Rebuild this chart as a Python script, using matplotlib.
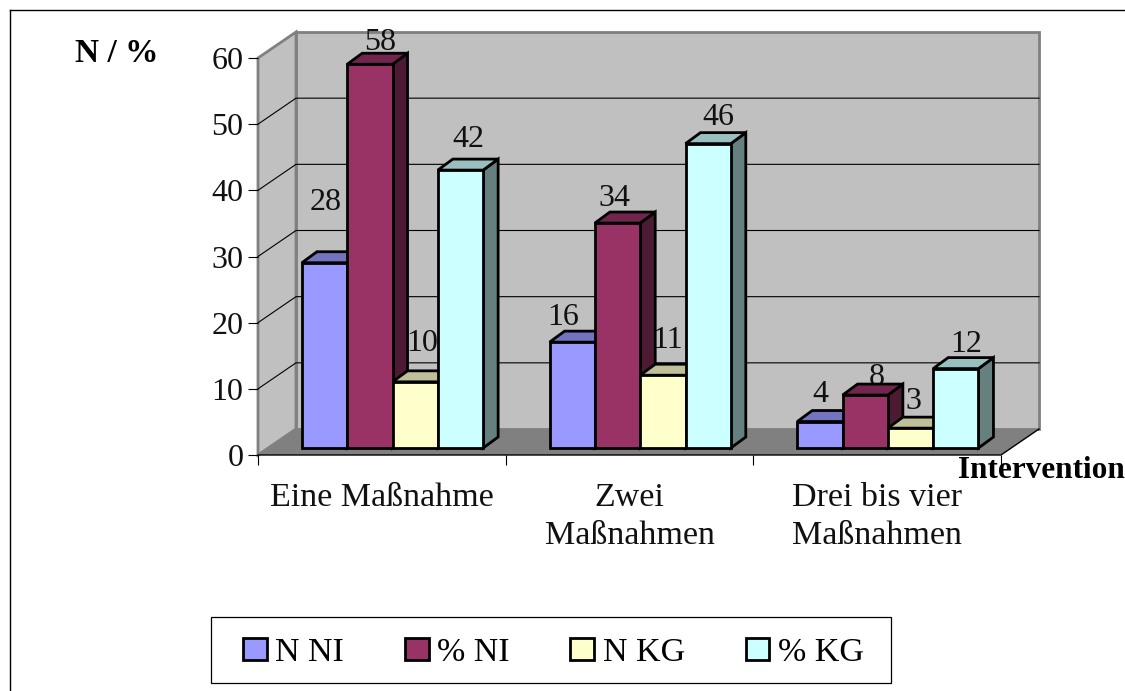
# -*- coding: utf-8 -*-
"""
Grouped pseudo 3D column chart: interventions per group
"""
import numpy as np
import matplotlib
matplotlib.use("Agg")
import matplotlib.pyplot as plt
from matplotlib.lines import Line2D
from matplotlib.colors import to_rgb

plt.rcParams['font.family'] = ['Liberation Serif', 'DejaVu Serif']

# Data
categories = ["Eine Maßnahme", "Zwei\nMaßnahmen", "Drei bis vier\nMaßnahmen"]
series_names = ["N NI", "% NI", "N KG", "% KG"]
n_ni = [28, 16, 4]
pct_ni = [58, 34, 8]
n_kg = [10, 11, 3]
pct_kg = [42, 46, 12]
y_ticks = [0, 10, 20, 30, 40, 50, 60]

series = [n_ni, pct_ni, n_kg, pct_kg]
colors = ["#9999FF", "#993366", "#FFFFCC", "#CCFFFF"]

# label offsets from the top centre of each front face, pixels
label_dx = [[1, 10, 7, 8], [-9, -3, 5, 10], [0, 12, 3, 10]]
label_dy = [[62, 24, 40, 33], [27, 27, 37, 28], [29, 20, 29, 26]]

W, H = 1125, 691
fig = plt.figure(figsize=(W/100, H/100), dpi=100, facecolor='white')
ax = fig.add_axes([258/W, 1 - 455/H, (1001-258)/W, (455-58)/H])
ax.set_xlim(0, 3)
ax.set_ylim(0, 60)
ax.patch.set_visible(False)
for s in ax.spines.values():
    s.set_visible(False)

px_x = 3 / (1001-258)
px_y = 60 / (455-58)
dep_x = 38 * px_x
dep_y = 26 * px_y

GREY = "#808080"
WALL = "#C0C0C0"

# back wall, side wall and floor
ax.fill([dep_x, 3+dep_x, 3+dep_x, dep_x], [dep_y, dep_y, 60+dep_y, 60+dep_y],
        fc=WALL, ec=GREY, lw=2, clip_on=False, zorder=1)
ax.fill([0, dep_x, dep_x, 0], [0, dep_y, 60+dep_y, 60],
        fc=WALL, ec=GREY, lw=2, clip_on=False, zorder=1)
ax.fill([0, dep_x, 3+dep_x, 3], [0, dep_y, dep_y, 0],
        fc=GREY, ec='none', clip_on=False, zorder=1.5)

for t in y_ticks[1:-1]:
    ax.plot([0, dep_x, 3+dep_x], [t, t+dep_y, t+dep_y], color='black', lw=0.8,
            clip_on=False, zorder=1.2)
ax.plot([0, 3, 3+dep_x], [0, 0, dep_y], color='black', lw=1.0, clip_on=False, zorder=1.6)

# columns
bar_w = 45.3 * px_x
off_x = 10.7 * px_x
off_y = 7 * px_y
bar_dx = 15 * px_x
bar_dy = 11 * px_y
z = 3
for i in range(len(categories)):
    for j, values in enumerate(series):
        v = values[i]
        left = i + 0.5 - 2*bar_w + j*bar_w + off_x
        right = left + bar_w
        top = v + off_y
        c = np.array(to_rgb(colors[j]))
        ax.fill([right, right+bar_dx, right+bar_dx, right],
                [off_y, off_y+bar_dy, top+bar_dy, top],
                fc=c*0.5, ec='black', lw=2, clip_on=False, zorder=z)
        ax.fill([left, left+bar_dx, right+bar_dx, right],
                [top, top+bar_dy, top+bar_dy, top],
                fc=c*0.75, ec='black', lw=2, clip_on=False, zorder=z)
        ax.bar(left, v, width=bar_w, bottom=off_y, align='edge', color=colors[j],
               edgecolor='black', linewidth=2, clip_on=False, zorder=z)
        ax.annotate(str(v), (left + bar_w/2, top),
                    xytext=(label_dx[i][j]*0.72, (label_dy[i][j] - 2)*0.72),
                    textcoords='offset points', ha='center', va='center',
                    fontsize=23, color='#111111', zorder=2)
        z += 1

# axes
ax.set_yticks(y_ticks)
ax.set_xticks([0, 1, 2, 3])
ax.set_xticklabels([])
ax.tick_params(axis='both', which='major', length=7, width=0.8, color='black')
ax.tick_params(axis='y', labelsize=23, pad=3.5, labelcolor='#111111')
ax.set_xticks([0.5, 1.5, 2.5], minor=True)
ax.set_xticklabels(categories, minor=True, fontsize=24.5, linespacing=1.32,
                   va='top', color='#111111')
ax.tick_params(axis='x', which='minor', length=0, pad=19.5)

fig.text(116.5/W, 1 - 53/H, "N / %", fontsize=24, fontweight='bold', ha='center', va='center')
fig.text(1125/W, 1 - 471/H, "Intervention", fontsize=22.5, fontweight='bold', ha='right', va='center')

# legend box and entries
fig.add_artist(plt.Rectangle((210.5/W, 1 - 682.5/H), 681/W, 65.5/H, fc='white', ec='black',
                             lw=0.9, transform=fig.transFigure))
handles = [plt.Rectangle((0, 0), 1, 1, fc=c, ec='black', lw=2) for c in colors]
leg = fig.legend(handles, series_names, ncol=4, loc='center',
                 bbox_to_anchor=(553.5/W, 1 - 652.5/H), fontsize=24.5, frameon=False,
                 handlelength=0.7, handleheight=0.62, handletextpad=0.25,
                 columnspacing=1.78, borderpad=0, borderaxespad=0)

# outer frame
fig.add_artist(Line2D([9.5/W, 1], [1 - 9.5/H, 1 - 9.5/H], color='black', lw=1))
fig.add_artist(Line2D([9.5/W, 9.5/W], [0, 1 - 9.5/H], color='black', lw=1))

fig.savefig('out.png', dpi=100)
